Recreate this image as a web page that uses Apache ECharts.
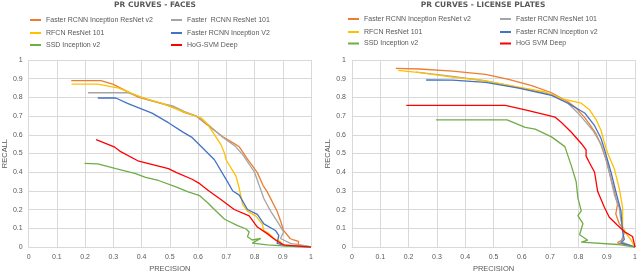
<!DOCTYPE html>
<html><head><meta charset="utf-8">
<script src="https://cdn.jsdelivr.net/npm/echarts@6/dist/echarts.min.js"></script>
<style>html,body{margin:0;padding:0;background:#fff}#c{width:640px;height:278px}</style>
</head><body><div id="c"></div>
<script>
// ---------- titles / ticks ----------
const titleFaces = 'PR CURVES - FACES';
const titlePlates = 'PR CURVES - LICENSE PLATES';
const xAxisName = 'PRECISION';
const yAxisName = 'RECALL';
const tickMin = 0, tickMax = 1, tickStep = 0.1;

// ---------- FACES: [precision, recall] ----------
const facesNames = ['Faster RCNN Inception ResNet v2', 'Faster  RCNN ResNet 101', 'RFCN ResNet 101', 'Faster RCNN Inception V2', 'SSD Inception v2', 'HoG-SVM Deep'];
const facesIncResV2 = [[0.151,0.890],[0.256,0.890],[0.30,0.87],[0.39,0.80],[0.466,0.77],[0.51,0.75],[0.55,0.72],[0.594,0.70],[0.635,0.65],[0.688,0.59],[0.728,0.553],[0.746,0.536],[0.775,0.47],[0.81,0.398],[0.83,0.33],[0.845,0.295],[0.88,0.192],[0.892,0.141],[0.903,0.089],[0.909,0.08],[0.926,0.046],[0.938,0.038],[0.956,0.03],[0.955,0.01],[0.97,0.008],[1.0,0.0]];
const facesRes101 = [[0.21,0.825],[0.35,0.825],[0.39,0.805],[0.42,0.79],[0.466,0.77],[0.51,0.755],[0.55,0.725],[0.594,0.70],[0.635,0.655],[0.685,0.59],[0.734,0.536],[0.76,0.49],[0.80,0.40],[0.833,0.26],[0.857,0.192],[0.886,0.124],[0.903,0.081],[0.892,0.046],[0.927,0.02],[0.99,0.005],[1.0,0.0]];
const facesRfcn = [[0.152,0.871],[0.245,0.871],[0.32,0.85],[0.40,0.80],[0.47,0.77],[0.553,0.72],[0.612,0.69],[0.629,0.665],[0.653,0.613],[0.682,0.545],[0.694,0.50],[0.699,0.467],[0.734,0.381],[0.746,0.313],[0.758,0.227],[0.775,0.192],[0.804,0.167],[0.827,0.124],[0.833,0.089],[0.851,0.072],[0.868,0.046],[0.892,0.029],[0.90,0.01],[0.95,0.005],[1.0,0.0]];
const facesIncV2 = [[0.245,0.797],[0.309,0.797],[0.35,0.768],[0.437,0.716],[0.495,0.665],[0.548,0.613],[0.577,0.588],[0.612,0.536],[0.658,0.467],[0.705,0.347],[0.723,0.30],[0.746,0.278],[0.775,0.201],[0.81,0.175],[0.833,0.124],[0.874,0.089],[0.886,0.063],[0.88,0.02],[0.916,0.005],[1.0,0.0]];
const facesSsd = [[0.198,0.447],[0.245,0.445],[0.309,0.419],[0.379,0.393],[0.414,0.373],[0.46,0.356],[0.524,0.321],[0.565,0.295],[0.606,0.275],[0.635,0.236],[0.658,0.201],[0.694,0.149],[0.74,0.115],[0.769,0.098],[0.781,0.081],[0.775,0.055],[0.792,0.038],[0.822,0.046],[0.792,0.021],[0.845,0.012],[0.927,0.004],[1.0,0.0]];
const facesHog = [[0.239,0.574],[0.303,0.536],[0.326,0.51],[0.39,0.459],[0.495,0.419],[0.524,0.398],[0.577,0.364],[0.606,0.339],[0.635,0.304],[0.682,0.253],[0.728,0.201],[0.781,0.167],[0.81,0.107],[0.845,0.072],[0.874,0.038],[0.903,0.012],[1.0,0.0]];

// ---------- LICENSE PLATES: [precision, recall] ----------
const platesNames = ['Faster RCNN Inception ResNet v2', 'Faster RCNN ResNet 101', 'RFCN ResNet 101', 'Faster RCNN Inception v2', 'SSD Inception v2', 'HoG SVM Deep'];
const platesIncResV2 = [[0.155,0.955],[0.239,0.952],[0.355,0.94],[0.472,0.923],[0.553,0.897],[0.635,0.863],[0.705,0.825],[0.763,0.777],[0.792,0.743],[0.822,0.692],[0.839,0.657],[0.862,0.606],[0.88,0.546],[0.897,0.469],[0.909,0.40],[0.927,0.297],[0.938,0.229],[0.932,0.177],[0.944,0.126],[0.962,0.091],[0.956,0.04],[0.938,0.023],[0.98,0.008],[1.0,0.0]];
const platesRes101 = [[0.227,0.935],[0.355,0.912],[0.472,0.888],[0.589,0.852],[0.705,0.815],[0.763,0.769],[0.798,0.717],[0.822,0.675],[0.851,0.623],[0.88,0.55],[0.90,0.46],[0.927,0.28],[0.944,0.212],[0.95,0.143],[0.962,0.075],[0.95,0.03],[0.99,0.005],[1.0,0.0]];
const platesRfcn = [[0.163,0.945],[0.239,0.932],[0.355,0.909],[0.472,0.889],[0.589,0.855],[0.682,0.829],[0.74,0.794],[0.763,0.786],[0.81,0.769],[0.839,0.734],[0.862,0.683],[0.88,0.623],[0.889,0.572],[0.903,0.503],[0.927,0.417],[0.944,0.315],[0.956,0.212],[0.956,0.109],[0.967,0.075],[0.985,0.04],[1.0,0.0]];
const platesIncV2 = [[0.262,0.893],[0.355,0.892],[0.472,0.88],[0.589,0.85],[0.705,0.811],[0.763,0.769],[0.822,0.717],[0.857,0.649],[0.88,0.58],[0.894,0.512],[0.915,0.40],[0.932,0.297],[0.95,0.194],[0.956,0.083],[0.962,0.04],[0.95,0.023],[0.99,0.005],[1.0,0.0]];
const platesSsd = [[0.297,0.68],[0.548,0.68],[0.612,0.64],[0.647,0.631],[0.705,0.589],[0.752,0.537],[0.775,0.434],[0.792,0.349],[0.798,0.263],[0.81,0.194],[0.798,0.168],[0.816,0.126],[0.804,0.066],[0.833,0.037],[0.81,0.027],[0.938,0.014],[1.0,0.0]];
const platesHog = [[0.192,0.757],[0.542,0.757],[0.612,0.734],[0.682,0.708],[0.717,0.695],[0.74,0.666],[0.775,0.614],[0.81,0.554],[0.827,0.52],[0.827,0.486],[0.839,0.451],[0.857,0.40],[0.868,0.297],[0.892,0.212],[0.909,0.16],[0.938,0.117],[0.962,0.083],[0.991,0.057],[1.0,0.0]];

const colors = ['#ED7D31', '#A5A5A5', '#FFC000', '#4472C4', '#70AD47', '#FF0000'];
const facesData = [facesIncResV2, facesRes101, facesRfcn, facesIncV2, facesSsd, facesHog];
const platesData = [platesIncResV2, platesRes101, platesRfcn, platesIncV2, platesSsd, platesHog];

const FONT = '"Liberation Sans", Arial, sans-serif';
const TFONT = '"DejaVu Sans", sans-serif';
const TXT = '#595959';
const GRIDC = '#D9D9D9';

function xAx(gi) {
  return {type:'value', gridIndex:gi, min:tickMin, max:tickMax, interval:tickStep,
    name:xAxisName, nameLocation:'middle', nameGap:16,
    nameTextStyle:{fontFamily:FONT, fontSize:7.5, color:TXT},
    axisLine:{show:true, lineStyle:{color:GRIDC}}, axisTick:{show:false},
    axisLabel:{fontFamily:FONT, fontSize:7, color:TXT, margin:6},
    splitLine:{show:true, lineStyle:{color:GRIDC, width:1}}};
}
function yAx(gi) {
  return {type:'value', gridIndex:gi, min:tickMin, max:tickMax, interval:tickStep,
    name:yAxisName, nameLocation:'middle', nameGap:19,
    nameTextStyle:{fontFamily:FONT, fontSize:7.5, color:TXT},
    axisLine:{show:false}, axisTick:{show:false},
    axisLabel:{fontFamily:FONT, fontSize:7, color:TXT, margin:6},
    splitLine:{show:true, lineStyle:{color:GRIDC, width:1}}};
}

const series = [];
facesData.forEach((d,i) => series.push({name:facesNames[i], type:'line', xAxisIndex:0, yAxisIndex:0, data:d, symbol:'none', color:colors[i], lineStyle:{width:1.3, color:colors[i]}, animation:false}));
platesData.forEach((d,i) => series.push({name:platesNames[i], type:'line', xAxisIndex:1, yAxisIndex:1, data:d, symbol:'none', color:colors[i], lineStyle:{width:1.3, color:colors[i]}, animation:false}));

function leg(name, textX, rowY) {
  return {data:[name], left:textX-5-11, top:rowY-5, padding:0, itemWidth:11, itemHeight:2, icon:'rect',
    selectedMode:false, textStyle:{fontFamily:FONT, fontSize:7, color:TXT, lineHeight:10}};
}
const legends = [
  leg(facesNames[0], 46, 20), leg(facesNames[2], 46, 33), leg(facesNames[4], 46, 45),
  leg(facesNames[1], 187, 20), leg(facesNames[3], 187, 33), leg(facesNames[5], 187, 45),
  leg(platesNames[0], 364, 19), leg(platesNames[2], 364, 32), leg(platesNames[4], 364, 43.5),
  leg(platesNames[1], 516, 19), leg(platesNames[3], 516, 32), leg(platesNames[5], 516, 43.5)
];

const chart = echarts.init(document.getElementById('c'), null, {renderer:'canvas'});
chart.setOption({
  animation:false,
  backgroundColor:'#fff',
  graphic:[
    {type:'text', x:155, y:5, style:{text:titleFaces, fontFamily:TFONT, fontSize:7.5, fontWeight:'bold', fill:TXT, align:'center', verticalAlign:'middle'}},
    {type:'text', x:483, y:5, style:{text:titlePlates, fontFamily:TFONT, fontSize:7.5, fontWeight:'bold', fill:TXT, align:'center', verticalAlign:'middle'}}
  ],
  legend:legends,
  grid:[
    {left:25, right:329, top:60, bottom:24},
    {left:352, right:2, top:60, bottom:23.5}
  ],
  xAxis:[xAx(0), xAx(1)],
  yAxis:[yAx(0), yAx(1)],
  series:series
});
</script></body></html>
